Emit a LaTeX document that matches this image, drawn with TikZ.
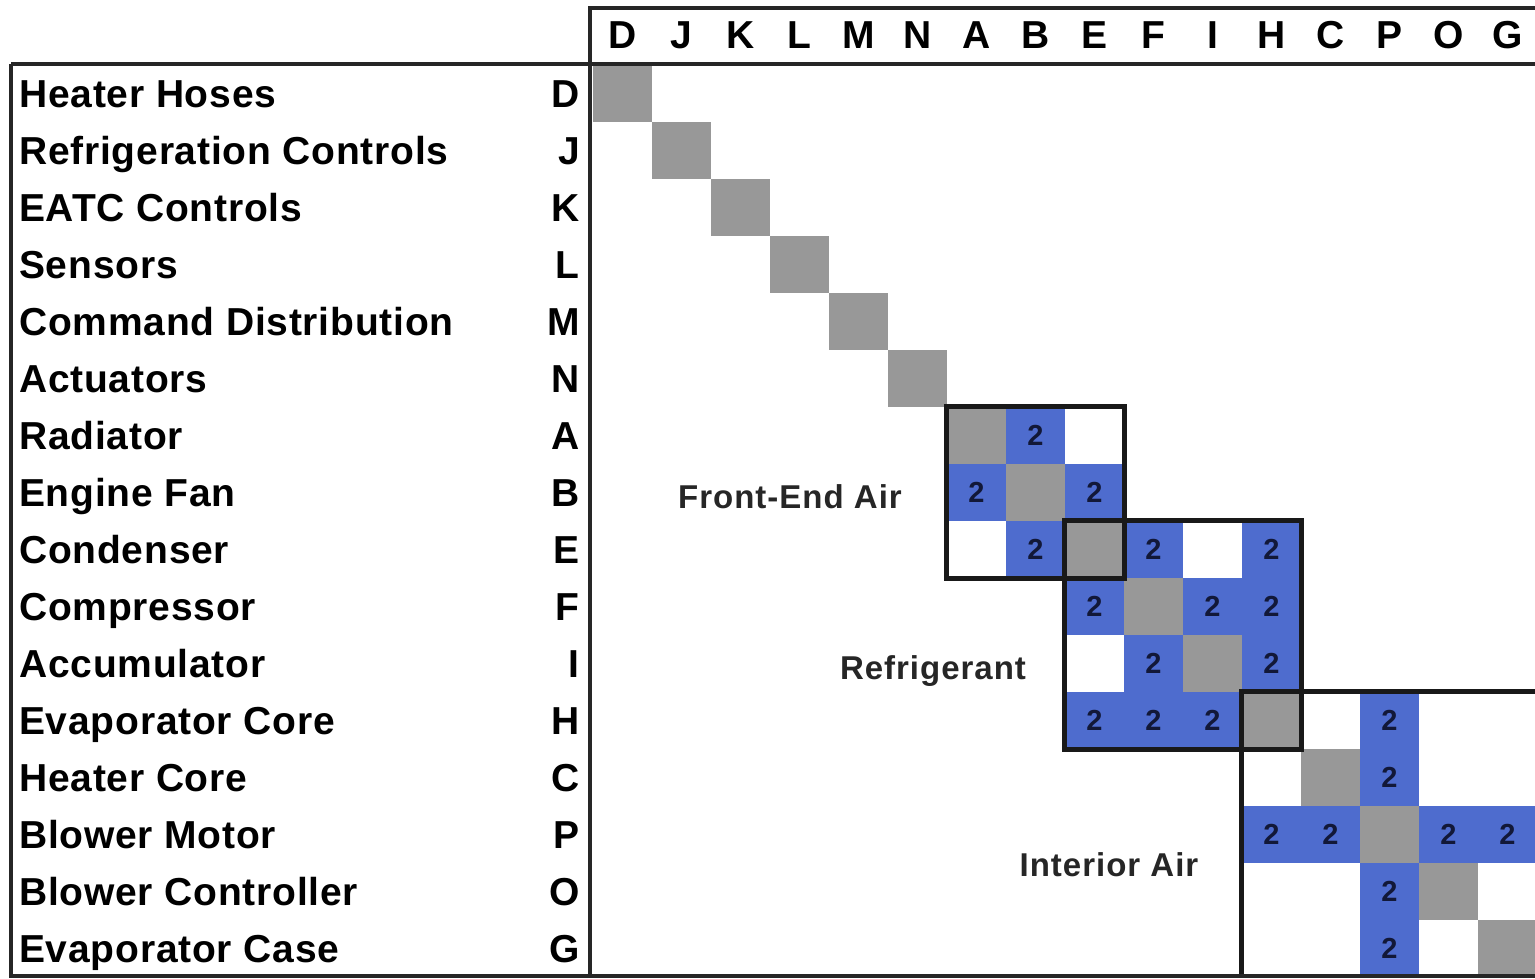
\documentclass[tikz,border=0pt]{standalone}
\usepackage{fontspec}
\setmainfont{Liberation Sans}
\newfontfamily\labfont[LetterSpace=2]{Liberation Sans}
\newfontfamily\grpfont[LetterSpace=3]{Liberation Sans}
\definecolor{cellblue}{RGB}{78,108,206}
\definecolor{cellgray}{RGB}{152,152,152}
\definecolor{digitcol}{RGB}{18,24,56}
\begin{document}
\begin{tikzpicture}[x=1pt,y=-1pt,
  rowlab/.style={anchor=west,inner sep=0pt,text height=27.9pt,text depth=0pt,
    font=\labfont\bfseries\fontsize{39}{39}\selectfont},
  rowlet/.style={rowlab,anchor=east},
  collet/.style={anchor=center,inner sep=0pt,text height=27.9pt,text depth=0pt,
    font=\labfont\bfseries\fontsize{39}{39}\selectfont},
  grplab/.style={anchor=center,inner sep=0pt,text height=23.6pt,text depth=0pt,
    font=\grpfont\bfseries\fontsize{33}{33}\selectfont,text=black!85},
  cellbox/.style={minimum width=59.6pt,minimum height=57.6pt,inner sep=0pt,draw=none},
  graycell/.style={cellbox,fill=cellgray},
  bluecell/.style={cellbox,fill=cellblue,text=digitcol,
    font=\bfseries\fontsize{29}{29}\selectfont},
  frameline/.style={line width=3.6pt,black!85},
  grpbox/.style={line width=4.2pt,black!90}]
\useasboundingbox (0,0) rectangle (1535,978);
\fill[white] (0,0) rectangle (1535,978);

% diagonal gray cells
\foreach \i in {0,...,15}
  \node[graycell] (g\i) at ({593+59*\i+29.5},{65+57*\i+28.5}) {};

% blue cells with 2
\foreach \c/\r in {7/6,6/7,8/7,7/8,9/8,11/8,8/9,10/9,11/9,9/10,11/10,
                   8/11,9/11,10/11,13/11,13/12,11/13,12/13,14/13,15/13,13/14,13/15}
  \node[bluecell] (b\r-\c) at ({593+59*\c+29.5},{65+57*\r+28.5}) {2};

% group boxes
\draw[grpbox] (g6.north west) rectangle (g8.south east);
\draw[grpbox] (g8.north west) rectangle (g11.south east);
\draw[grpbox] (g15.north east |- g11.north west) -- (g11.north west) -- (g11.north west |- g15.south west);

% group labels
\node[grplab] (lfront) at (790,497) {Front-End Air};
\node[grplab] (lrefr) at (933,668) {Refrigerant};
\node[grplab] (linter) at (1109,865) {Interior Air};

% frame lines
\coordinate (hTL) at (588,8);
\coordinate (hTR) at (1535,8);
\coordinate (mL) at (590,978);
\coordinate (lTL) at (11,64);
\coordinate (lTR) at (1535,64);
\coordinate (lBL) at (11,976);
\coordinate (lBR) at (1535,976);
\draw[frameline] (hTL) -- (hTR);
\draw[frameline] (590,8) -- (mL);
\draw[frameline] (lTL) -- (lTR);
\draw[frameline] (lTL) -- (lBL) -- (lBR);

% column letters
\foreach \l [count=\i from 0] in {D,J,K,L,M,N,A,B,E,F,I,H,C,P,O,G}
  \node[collet] (c\l) at ({593+59*\i+29.5},35) {\l};

% row labels
\foreach \t/\l [count=\i from 0] in {Heater Hoses/D,Refrigeration Controls/J,EATC Controls/K,
   Sensors/L,Command Distribution/M,Actuators/N,Radiator/A,Engine Fan/B,Condenser/E,
   Compressor/F,Accumulator/I,Evaporator Core/H,Heater Core/C,Blower Motor/P,
   Blower Controller/O,Evaporator Case/G}{
  \node[rowlab] (rn\i) at (19,{65+57*\i+28.5}) {\t};
  \node[rowlet] (rl\i) at (580,{65+57*\i+28.5}) {\l};
}
\end{tikzpicture}
\end{document}
